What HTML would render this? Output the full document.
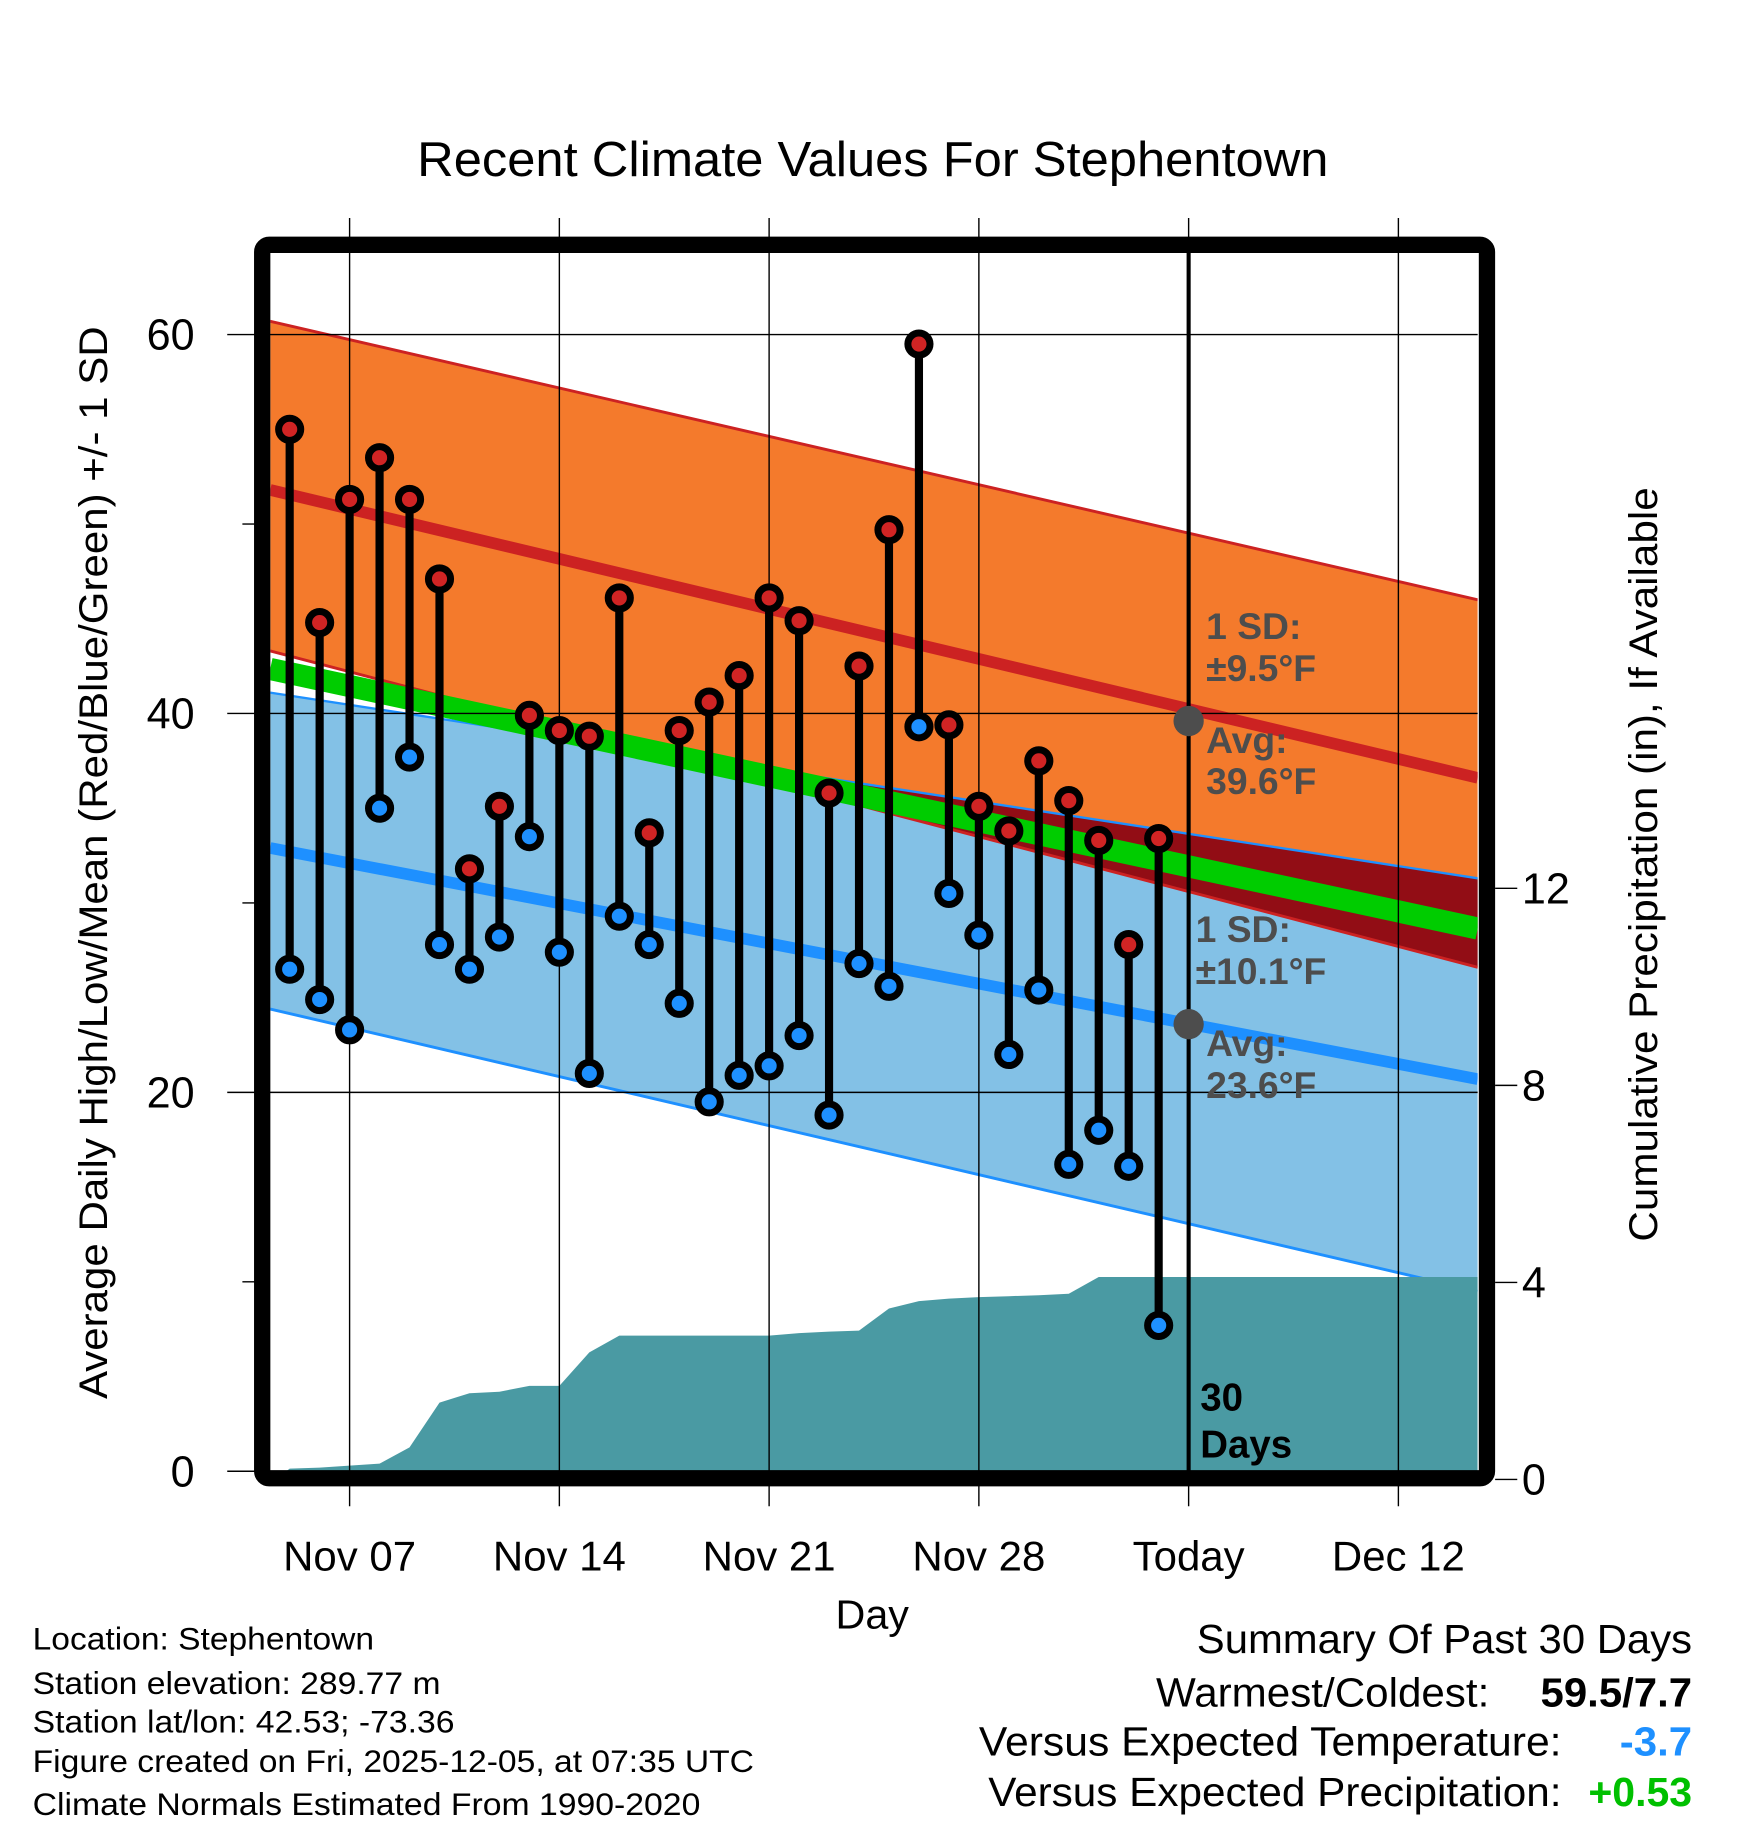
<!DOCTYPE html>
<html><head><meta charset="utf-8"><style>
html,body{margin:0;padding:0;background:#fff;}
svg{display:block;font-family:"Liberation Sans",Arial,sans-serif;}
</style></head><body>
<svg id="chart" width="1748" height="1828" viewBox="0 0 1500 1568" preserveAspectRatio="none" xmlns="http://www.w3.org/2000/svg">
<defs><clipPath id="plotclip"><rect x="232" y="217" width="1036" height="1045"/></clipPath></defs>
<rect x="0" y="0" width="1500" height="1568" fill="#fff"/>
<g id="bands" clip-path="url(#plotclip)"></g>
<g id="grid"></g>
<g id="marks" clip-path="url(#plotclip)"></g>
<rect x="225" y="210" width="1051" height="1058" rx="6" fill="none" stroke="#000" stroke-width="14"/>
<g id="axes"></g>
<text x="358" y="151" font-size="42" textLength="782" lengthAdjust="spacingAndGlyphs">Recent Climate Values For Stephentown</text>
<text transform="translate(92,1200) rotate(-90)" font-size="34" textLength="920" lengthAdjust="spacingAndGlyphs">Average Daily High/Low/Mean (Red/Blue/Green) +/- 1 SD</text>
<text transform="translate(1422,1065) rotate(-90)" font-size="34" textLength="647" lengthAdjust="spacingAndGlyphs">Cumulative Precipitation (in), If Available</text>
<text x="717" y="1397" font-size="35" textLength="63" lengthAdjust="spacingAndGlyphs">Day</text>
<g font-size="27">
<text x="28" y="1415" textLength="293" lengthAdjust="spacingAndGlyphs">Location: Stephentown</text>
<text x="28" y="1453" textLength="350" lengthAdjust="spacingAndGlyphs">Station elevation: 289.77 m</text>
<text x="28" y="1486" textLength="362" lengthAdjust="spacingAndGlyphs">Station lat/lon: 42.53; -73.36</text>
<text x="28" y="1520" textLength="619" lengthAdjust="spacingAndGlyphs">Figure created on Fri, 2025-12-05, at 07:35 UTC</text>
<text x="28" y="1557" textLength="573" lengthAdjust="spacingAndGlyphs">Climate Normals Estimated From 1990-2020</text>
</g>
<g font-size="35">
<text x="1027" y="1418" textLength="425" lengthAdjust="spacingAndGlyphs">Summary Of Past 30 Days</text>
<text x="992" y="1464" textLength="286" lengthAdjust="spacingAndGlyphs">Warmest/Coldest:</text>
<text x="1322" y="1464" font-weight="bold" textLength="130" lengthAdjust="spacingAndGlyphs">59.5/7.7</text>
<text x="840" y="1506" textLength="500" lengthAdjust="spacingAndGlyphs">Versus Expected Temperature:</text>
<text x="1390" y="1506" font-weight="bold" fill="#1e90ff" textLength="62" lengthAdjust="spacingAndGlyphs">-3.7</text>
<text x="848" y="1549" textLength="492" lengthAdjust="spacingAndGlyphs">Versus Expected Precipitation:</text>
<text x="1363" y="1549" font-weight="bold" fill="#00c000" textLength="89" lengthAdjust="spacingAndGlyphs">+0.53</text>
</g>
</svg>
<script>
// ---- data ----
const dayLabels = ["Nov 05","Nov 06","Nov 07","Nov 08","Nov 09","Nov 10","Nov 11","Nov 12","Nov 13","Nov 14","Nov 15","Nov 16","Nov 17","Nov 18","Nov 19","Nov 20","Nov 21","Nov 22","Nov 23","Nov 24","Nov 25","Nov 26","Nov 27","Nov 28","Nov 29","Nov 30","Dec 01","Dec 02","Dec 03","Dec 04"];
const dayIndex = [-2,-1,0,1,2,3,4,5,6,7,8,9,10,11,12,13,14,15,16,17,18,19,20,21,22,23,24,25,26,27];
const highs = [55.0,44.8,51.3,53.5,51.3,47.1,31.8,35.1,39.9,39.1,38.8,46.1,33.7,39.1,40.6,42.0,46.1,44.9,35.8,42.5,49.7,59.5,39.4,35.1,33.8,37.5,35.4,33.3,27.8,33.4];
const lows = [26.5,24.9,23.3,35.0,37.7,27.8,26.5,28.2,33.5,27.4,21.0,29.3,27.8,24.7,19.5,20.9,21.4,23.0,18.8,26.8,25.6,39.3,30.5,28.3,22.0,25.4,16.2,18.0,16.1,7.7];
const precip = [0.22,0.24,0.28,0.32,0.65,1.56,1.75,1.78,1.90,1.90,2.58,2.92,2.92,2.92,2.92,2.92,2.92,2.97,3.00,3.02,3.47,3.62,3.67,3.70,3.72,3.74,3.77,4.11,4.11,4.11];
const normalDays = [-2.65, 37.65];
const highUpper = [60.7, 46.0];
const highMean = [51.8, 36.6];
const highLower = [43.3, 26.6];
const lowUpper = [41.1, 31.3];
const lowMean = [32.9, 20.7];
const lowLower = [24.4, 9.5];
const xTickDays = [0,7,14,21,28,35];
const xTickLabels = ["Nov 07","Nov 14","Nov 21","Nov 28","Today","Dec 12"];
const yTicks = [0,20,40,60];
const yMinorTicks = [10,30,50];
const y2Ticks = [0,4,8,12];
const todayDay = 28;
const todayHighAvg = 39.6, todayLowAvg = 23.6;

// ---- scales ----
const X = d => 300 + d * 25.714;
const Y = t => 1262 - t * 16.25;
const P = p => 1269 - p * 42.25;
const NS = "http://www.w3.org/2000/svg";
function mk(parent, tag, attrs){const e=document.createElementNS(NS,tag);for(const k in attrs)e.setAttribute(k,attrs[k]);parent.appendChild(e);return e;}
const bands=document.getElementById('bands'), grid=document.getElementById('grid'), marks=document.getElementById('marks'), axes=document.getElementById('axes');
const x0=X(normalDays[0]), x1=X(normalDays[1]);
function band(up, lo, fill, name){
  const e=mk(bands,'polygon',{points:`${x0},${Y(up[0])} ${x1},${Y(up[1])} ${x1},${Y(lo[1])} ${x0},${Y(lo[0])}`,fill:fill});
  
  
}
function line(v, color, w, name){
  const e=mk(bands,'line',{x1:x0,y1:Y(v[0]),x2:x1,y2:Y(v[1]),stroke:color,'stroke-width':w});
  
  
}
band(highUpper, highLower, '#f47a2c', 'high-sd-band');
band(lowUpper, lowLower, '#83c1e6', 'low-sd-band');
{
  const n=60, top=[], bot=[];
  for(let i=0;i<=n;i++){const t=i/n;const d=normalDays[0]+t*(normalDays[1]-normalDays[0]);
    const hl=highLower[0]+t*(highLower[1]-highLower[0]); const lu=lowUpper[0]+t*(lowUpper[1]-lowUpper[0]);
    if(lu>hl){top.push(`${X(d)},${Y(lu)}`);bot.unshift(`${X(d)},${Y(hl)}`);}}
  if(top.length){const e=mk(bands,'polygon',{points:top.concat(bot).join(' '),fill:'#920d15'});
    
    }
}
line(highUpper,'#cc2222',2.5,'high-upper-line');
line(highLower,'#cc2222',2.5,'high-lower-line');
line(lowUpper,'#1e90ff',2,'low-upper-line');
line(lowLower,'#1e90ff',2.5,'low-lower-line');
line([(highMean[0]+lowMean[0])/2,(highMean[1]+lowMean[1])/2],'#00cc00',19,'mean-band');
line(highMean,'#cc2222',10,'high-normal-line');
line(lowMean,'#1e90ff',10,'low-normal-line');
{
  let pts=`${X(dayIndex[0])-3},1262 `;
  dayIndex.forEach((d,i)=>{pts+=`${X(d)},${P(precip[i])} `;});
  pts+=`1268,${P(precip[precip.length-1])} 1268,1262`;
  const e=mk(bands,'polygon',{points:pts,fill:'#4a9aa3'});
  
  
}
xTickDays.forEach((d,i)=>{
  const g=mk(grid,'line',{x1:X(d),y1:187,x2:X(d),y2:1292,stroke:'#000','stroke-width':1.2});
  
  
  const t=mk(axes,'text',{x:X(d),y:1347,'font-size':36,'text-anchor':'middle'});
  t.textContent=xTickLabels[i];
  
  
});
yTicks.forEach(v=>{
  const g=mk(grid,'line',{x1:195,y1:Y(v),x2:1268,y2:Y(v),stroke:'#000','stroke-width':1.2});
  
  
  const t=mk(axes,'text',{x:167,y:Y(v)+13,'font-size':37,'text-anchor':'end'});
  t.textContent=v;
  
  
});
yMinorTicks.forEach(v=>{
  const g=mk(axes,'line',{x1:208,y1:Y(v),x2:220,y2:Y(v),stroke:'#000','stroke-width':1.2});
  
  
});
y2Ticks.forEach(v=>{
  const g=mk(axes,'line',{x1:1283,y1:P(v),x2:1302,y2:P(v),stroke:'#000','stroke-width':1.2});
  
  
  const t=mk(axes,'text',{x:1306,y:P(v)+13,'font-size':37});
  t.textContent=v;
  
  
});
dayIndex.forEach((d,i)=>{
  const x=X(d);
  const s=mk(marks,'line',{x1:x,y1:Y(highs[i]),x2:x,y2:Y(lows[i]),stroke:'#000','stroke-width':7});
  
  
});
dayIndex.forEach((d,i)=>{
  const x=X(d);
  const h=mk(marks,'circle',{cx:x,cy:Y(highs[i]),r:9.5,fill:'#d02424',stroke:'#000','stroke-width':6});
  
  
  const l=mk(marks,'circle',{cx:x,cy:Y(lows[i]),r:9.5,fill:'#1e90ff',stroke:'#000','stroke-width':6});
  
  
});
{
  const tx=X(todayDay);
  const e=mk(marks,'line',{x1:tx,y1:217,x2:tx,y2:1262,stroke:'#000','stroke-width':3.5});
  
  
  const c1=mk(marks,'circle',{cx:tx,cy:Y(todayHighAvg),r:13,fill:'#4d4d4d'});
  
  
  const c2=mk(marks,'circle',{cx:tx,cy:Y(todayLowAvg),r:13,fill:'#4d4d4d'});
  
  
  const labels=[[tx+15,548,"1 SD:"],[tx+15,584,"±9.5°F"],[tx+15,646,"Avg:"],[tx+15,681,"39.6°F"],[tx+6,808,"1 SD:"],[tx+6,844,"±10.1°F"],[tx+15,906,"Avg:"],[tx+15,942,"23.6°F"]];
  labels.forEach(a=>{const t=mk(marks,'text',{x:a[0],y:a[1],'font-size':32,'font-weight':'bold',fill:'#4d4d4d'});t.textContent=a[2];
    
    });
  [[1210,"30"],[1250,"Days"]].forEach(a=>{const t=mk(marks,'text',{x:tx+10,y:a[0],'font-size':33,'font-weight':'bold',fill:'#000'});t.textContent=a[1];
    
    });
}
</script>
</body></html>
